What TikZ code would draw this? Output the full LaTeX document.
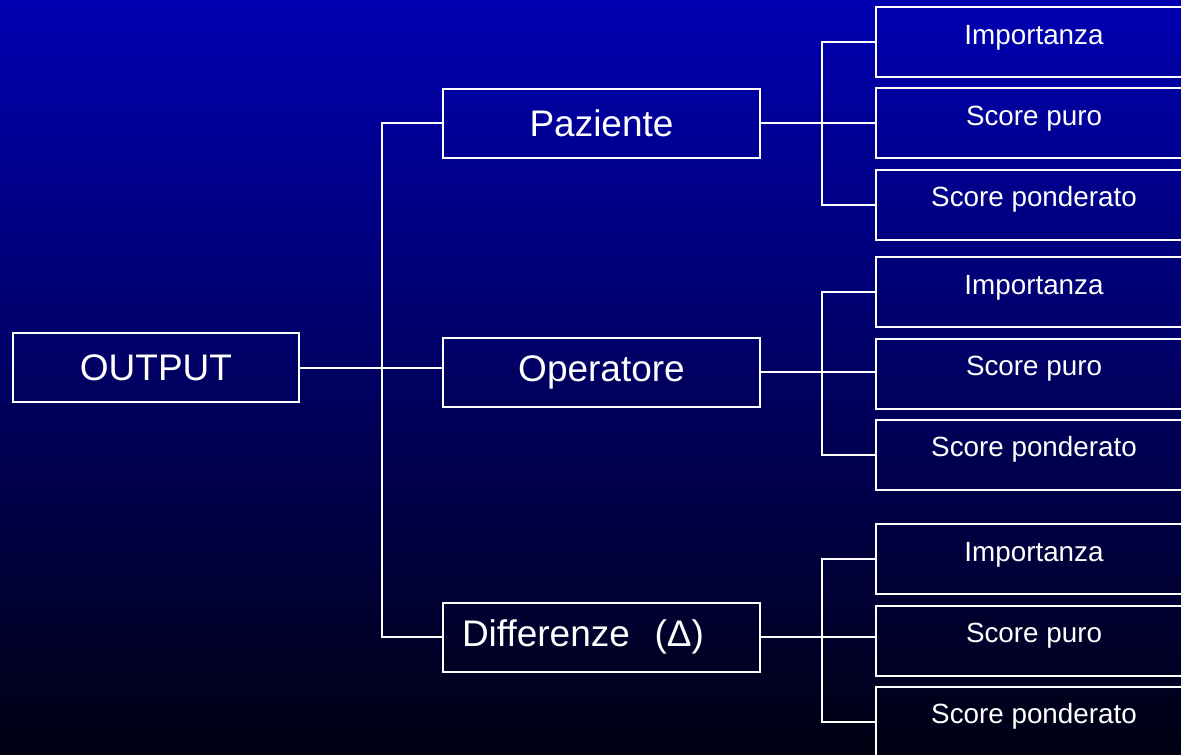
\documentclass[tikz,border=0pt]{standalone}
\usepackage{fontspec}
\setmainfont{Liberation Sans}
\usepackage{xcolor}
\usepackage{tikz}
\definecolor{slidetop}{RGB}{0,0,178}
\definecolor{slidebot}{RGB}{0,0,18}

\begin{document}
\begin{tikzpicture}[x=0.5pt,y=-0.5pt]
\tikzstyle{box}=[rectangle, draw=white, line width=1pt, text=white, minimum width=158.5pt, minimum height=34.5pt, inner sep=0pt, font=\fontsize{18.5}{22}\selectfont]
\tikzstyle{leaf}=[rectangle, draw=white, line width=1pt, text=white, minimum width=158pt, inner sep=0pt, text height=18.5pt, text depth=16.5pt, font=\fontsize{13.9}{16}\selectfont]
\tikzstyle{wire}=[draw=white, line width=1pt]

\clip (0,0) rectangle (1181,754);
\shade[top color=slidetop, bottom color=slidebot] (0,0) rectangle (1181,754);

\node[box, minimum width=143pt] (out) at (156,367.5) {OUTPUT};
\node[box] (paz) at (601.5,123.5) {Paziente};
\node[box] (opr) at (601.5,372) {Operatore};
\node[box, align=left, text width=139.5pt, inner xsep=9.5pt] (dif) at (601.5,637) {Differenze\ \ (Δ)};

\coordinate (trunk) at (382,367.5);
\draw[wire] (out.east) -- (out.east -| opr.west);
\draw[wire] (paz.west) -| (trunk) |- (dif.west);

\foreach \g/\y in {paz/123.5, opr/373.5, dif/640.5}{
  \node[leaf] (\g-imp) at (1034,\y-81.2) {Importanza};
  \node[leaf] (\g-pur) at (1034,\y) {Score puro};
  \node[leaf] (\g-pon) at (1034,\y+81.2) {Score ponderato};
  \coordinate (\g-fork) at (822,\y);
  \draw[wire] (\g.east) -- (\g.east -| \g-pur.west);
  \draw[wire] (\g-imp.west) -| (\g-fork) |- (\g-pon.west);
}
\end{tikzpicture}
\end{document}
